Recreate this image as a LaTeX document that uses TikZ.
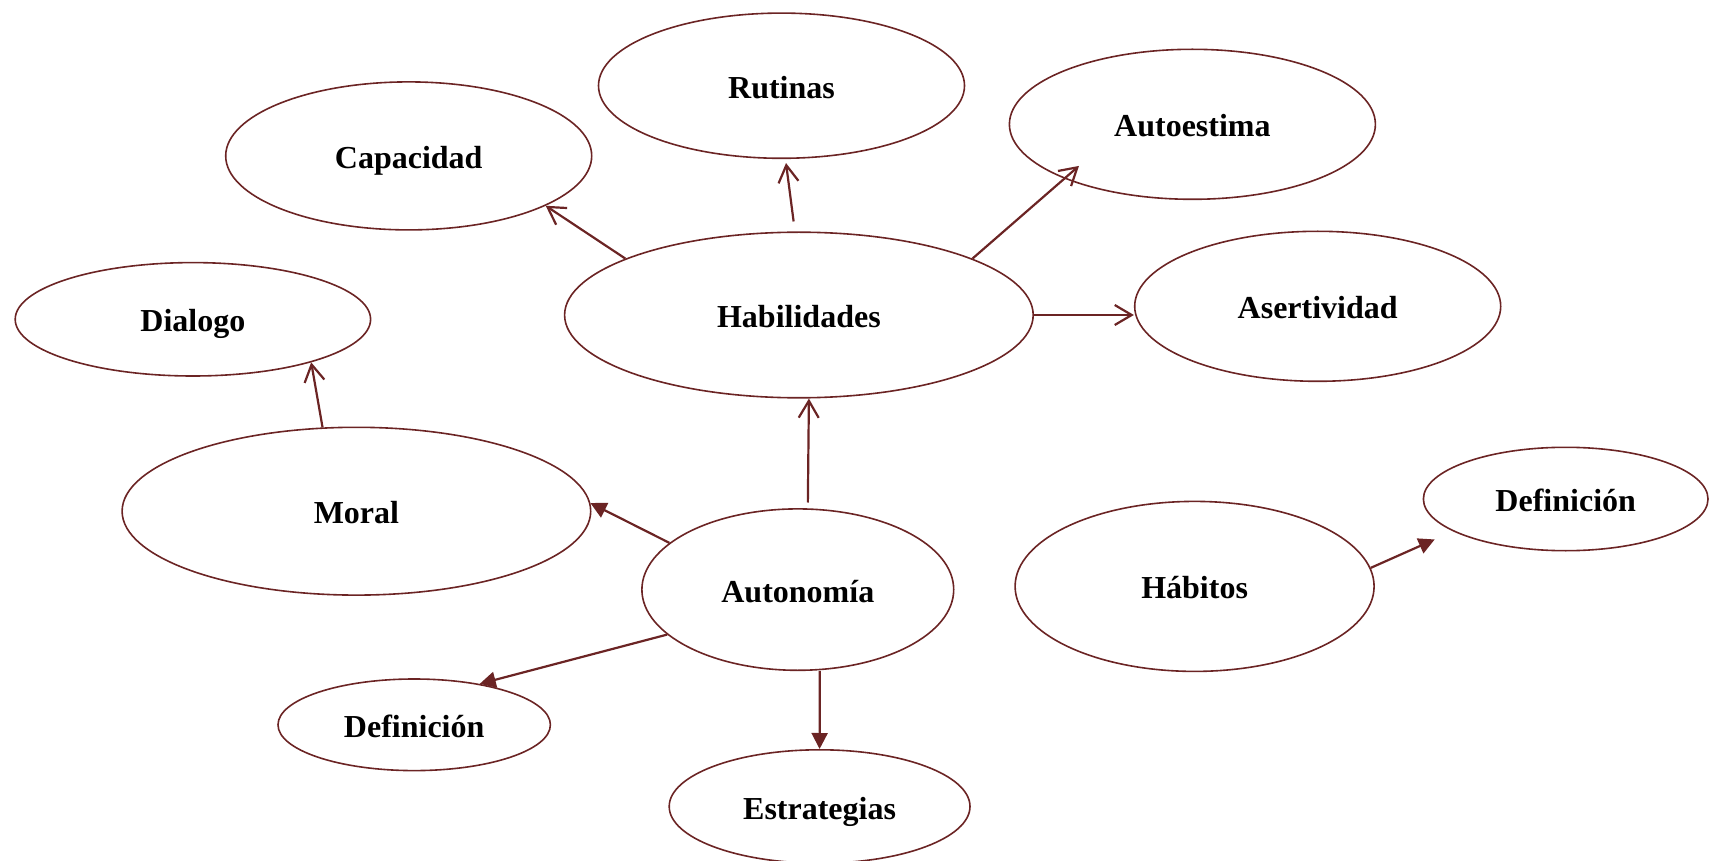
\documentclass[tikz,border=0pt]{standalone}
\usepackage{fontspec}
\setmainfont{Liberation Serif}
\usetikzlibrary{arrows.meta,shapes.geometric}
\definecolor{maroon}{RGB}{107,36,36}

\begin{document}
\begin{tikzpicture}[x=0.5pt,y=-0.5pt,
    bubble/.style={ellipse, draw=maroon, line width=0.8pt, inner sep=0pt,
      text height=12.5pt, text depth=0pt, font=\fontsize{16}{19}\selectfont\bfseries},
    openarr/.style={-{Straight Barb[length=8.5pt,width=10pt]}, draw=maroon, line width=1.1pt},
    fillarr/.style={-{Triangle[length=8pt,width=8pt]}, draw=maroon, fill=maroon, line width=1.1pt}]
        \useasboundingbox (0,0) rectangle (1709,861);

        \node (rut) [bubble, minimum width=183pt, minimum height=72.6pt] at (781.5,85.7) {Rutinas};
        \node (cap) [bubble, minimum width=183pt, minimum height=74pt] at (408.7,155.9) {Capacidad};
        \node (autoest) [bubble, minimum width=183pt, minimum height=75pt] at (1192.4,124.3) {Autoestima};
        \node (dial) [bubble, minimum width=177.7pt, minimum height=56.7pt] at (192.9,319.3) {Dialogo};
        \node (habil) [bubble, minimum width=234.3pt, minimum height=82.8pt] at (798.9,315) {Habilidades};
        \node (asert) [bubble, minimum width=183pt, minimum height=75pt] at (1317.7,306.3) {Asertividad};
        \node (moral) [bubble, minimum width=234.3pt, minimum height=83.9pt] at (356.4,511.2) {Moral};
        \node (defder) [bubble, minimum width=142.3pt, minimum height=51.7pt] at (1565.7,499) {Definición};
        \node (habit) [bubble, minimum width=179.5pt, minimum height=85pt] at (1194.6,586.4) {Hábitos};
        \node (auton) [bubble, minimum width=155.9pt, minimum height=80.7pt] at (797.8,589.6) {Autonomía};
        \node (defizq) [bubble, minimum width=136.2pt, minimum height=45.8pt] at (414.2,724.8) {Definición};
        \node (estr) [bubble, minimum width=150.4pt, minimum height=56.7pt] at (819.6,806.5) {Estrategias};

        \draw[openarr] (habil.162.6) -- (cap.-20.9);
        \draw[openarr, shorten <=5pt, shorten >=2pt] ([xshift=-2pt]habil.north) -- ([xshift=2pt]rut.south);
        \draw[openarr, shorten >=-9.7pt] (habil.18.3) -- (autoest.-157.5);
        \draw[openarr] (habil.east) -- (habil.east -| asert.west);
        \draw[openarr, shorten <=2.8pt] ([xshift=5pt]auton.north) -- ([xshift=5pt]habil.south);
        \draw[openarr] (moral.112) -- (dial.-20);

        \draw[fillarr] (auton.160.5) -- (moral.2.3);
        \draw[fillarr] (auton.-161.1) -- (defizq.32);
        \draw[fillarr] ([xshift=11pt]auton.south) -- (estr.north);
        \draw[fillarr, shorten >=10pt] (habit.6) -- (defder.196.9);
    \end{tikzpicture}
\end{document}
